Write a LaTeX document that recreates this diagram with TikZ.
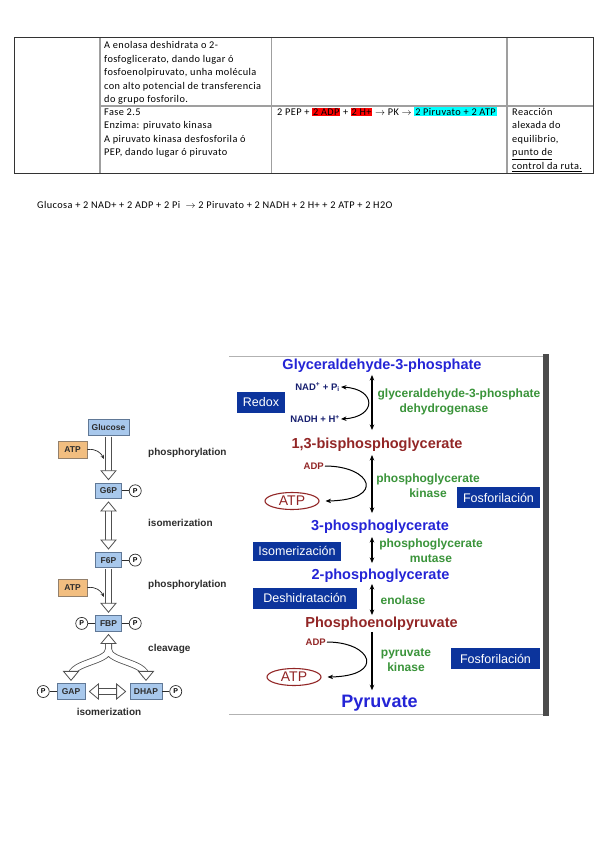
\documentclass[tikz,border=0pt]{standalone}
\usepackage{fontspec}
\setmainfont{Carlito}[LetterSpace=4]
\newfontfamily\arialf{Liberation Sans}
\usetikzlibrary{arrows.meta,positioning,calc,shapes.geometric}
\definecolor{tagblue}{RGB}{12,52,156}
\definecolor{molblue}{RGB}{36,36,214}
\definecolor{molred}{RGB}{146,38,38}
\definecolor{enzgreen}{RGB}{58,148,58}
\definecolor{cofnavy}{RGB}{24,32,112}
\definecolor{metfill}{RGB}{168,200,236}
\definecolor{metedge}{RGB}{96,120,150}
\definecolor{atpfill}{RGB}{242,190,128}
\definecolor{hgray}{RGB}{80,80,80}
\definecolor{labgray}{RGB}{45,45,45}
\definecolor{hlred}{RGB}{255,0,0}
\definecolor{hlcyan}{RGB}{0,255,255}
\newcommand{\tabfont}{\fontsize{10.3}{13.5}\selectfont}
\newcommand{\marca}[2]{{\setlength{\fboxsep}{0.8pt}\colorbox{#1}{#2}}}

\begin{document}
\begin{tikzpicture}[x=1pt,y=-1pt,>={Stealth[length=5.5pt,width=4.5pt]},
  cell/.style={anchor=north west,inner sep=0pt,align=left,font=\tabfont},
  tline/.style={draw=gray!75,line width=1.1pt},
  mol/.style={font=\arialf\bfseries\fontsize{14.5}{16}\selectfont,inner sep=1pt},
  enz/.style={font=\arialf\bfseries\fontsize{12}{15}\selectfont,text=enzgreen,align=center,inner sep=0pt},
  cof/.style={font=\arialf\bfseries\fontsize{9.5}{11}\selectfont,inner sep=1pt},
  tag/.style={fill=tagblue,text=white,font=\arialf\fontsize{12.5}{14}\selectfont,minimum height=21pt,inner sep=0pt},
  atpell/.style={ellipse,draw=molred,line width=1.1pt,minimum width=54pt,minimum height=17pt,inner sep=0pt,text=molred,font=\arialf\fontsize{14}{14}\selectfont},
  rxn/.style={line width=1.2pt},
  cofarr/.style={line width=1pt},
  met/.style={draw=metedge,fill=metfill,line width=0.8pt,minimum height=15.5pt,inner xsep=3pt,inner ysep=0pt,font=\arialf\bfseries\fontsize{8.5}{9}\selectfont,text=labgray},
  atpbox/.style={met,fill=atpfill,draw=gray!70!brown,minimum width=29pt,minimum height=17pt},
  pc/.style={circle,draw=labgray,fill=white,line width=0.7pt,inner sep=0pt,minimum size=12pt,font=\arialf\bfseries\fontsize{7}{7}\selectfont},
  lab/.style={font=\arialf\bfseries\fontsize{10}{11}\selectfont,text=labgray,inner sep=0pt},
  hshaft/.style={draw=hgray,line width=0.8pt,double=white,double distance=5.4pt},
  hhead/.pic={\filldraw[fill=white,draw=hgray,line width=0.8pt] (0,0) -- (-9,7.5) -- (-9,-7.5) -- cycle;}]
\useasboundingbox (0,0) rectangle (599,848);
\fill[white] (0,0) rectangle (599,848);

\draw[tline] (100,37) -- (100,173) (271.5,37) -- (271.5,173) (507,37) -- (507,173) (100,106) -- (593,106);
\draw[draw=gray!40!black,line width=0.9pt] (14,37) rectangle (593,173);
\node[cell] (enol) at (104,39) {\strut A enolasa deshidrata o 2-\\fosfoglicerato, dando lugar ó\\fosfoenolpiruvato, unha molécula\\con alto potencial de transferencia\\do grupo fosforilo.};
\node[cell] (fase) at (104,105.7) {\strut Fase 2.5\\Enzima: piruvato kinasa\\A piruvato kinasa desfosforila ó\\PEP, dando lugar ó piruvato};
\node[cell] (pkeq) at (277,105.7) {\strut 2 PEP + \marca{hlred}{2 ADP} + \marca{hlred}{2 H+} $\rightarrow$ PK $\rightarrow$ \marca{hlcyan}{2 Piruvato + 2 ATP}};
\node[cell] (nota) at (512,105.7) {\strut Reacción\\alexada do\\equilibrio,\\\underline{punto de}\\\underline{control da ruta.}};
\node[anchor=west,font=\tabfont,inner sep=0pt] (eqn) at (37,205) {Glucosa + 2 NAD+ + 2 ADP + 2 Pi \ $\rightarrow$ 2 Piruvato + 2 NADH + 2 H+ + 2 ATP + 2 H2O};

\node[met,minimum width=41pt] (glc) at (108.5,427.5) {Glucose};
\node[met,minimum width=26pt,below=47pt of glc] (g6p) {G6P};
\node[met,minimum width=26pt,below=53pt of g6p] (f6p) {F6P};
\node[met,minimum width=26pt,below=47pt of f6p] (fbp) {FBP};
\node[met,minimum width=28pt] (gap) at (71,691.5) {GAP};
\node[met,minimum width=32pt] (dhap) at (146,691.5) {DHAP};
\node[atpbox] (atpl1) at (72.5,449.5) {ATP};
\node[atpbox] (atpl2) at (72.5,587.5) {ATP};
\node[pc,right=7pt of g6p] (g6pP) {P};
\node[pc,right=7pt of f6p] (f6pP) {P};
\node[pc,right=7pt of fbp] (fbpR) {P};
\node[pc,left=7pt of fbp] (fbpL) {P};
\node[pc,left=7pt of gap] (gapP) {P};
\node[pc,right=7pt of dhap] (dhapP) {P};
\draw[labgray,line width=0.7pt] (g6p) -- (g6pP) (f6p) -- (f6pP) (fbp) -- (fbpR) (fbp) -- (fbpL) (gap) -- (gapP) (dhap) -- (dhapP);
\node[lab,anchor=west] (phos1) at (148,453) {phosphorylation};
\node[lab,anchor=west] (isom1) at (148,523) {isomerization};
\node[lab,anchor=west] (phos2) at (148,585) {phosphorylation};
\node[lab,anchor=west] (clv) at (148,649) {cleavage};
\node[lab] (isom2) at (109,712) {isomerization};
\coordinate (fork) at ($(fbp.south)+(0,18)$);
\coordinate (atpin1) at (104,459);
\coordinate (atpin2) at (104,597);
\draw[hshaft] ([yshift=-1pt]glc.south) -- ([yshift=7pt]g6p.north);
\draw[hshaft] ([yshift=-7pt]g6p.south) -- ([yshift=7pt]f6p.north);
\draw[hshaft] ([yshift=-1pt]f6p.south) -- ([yshift=7pt]fbp.north);
\draw[hshaft] ([yshift=-7pt]fbp.south) -- (fork) .. controls +(0,12) and +(0,-14) .. ([yshift=7pt]gap.north)
  (fork) .. controls +(0,12) and +(0,-14) .. ([yshift=7pt]dhap.north);
\draw[hshaft] ([xshift=8pt]gap.east) -- ([xshift=-8pt]dhap.west);
\pic[rotate=-90] at ([yshift=3pt]g6p.north) {hhead};
\pic[rotate=90] at ([yshift=-3pt]g6p.south) {hhead};
\pic[rotate=-90] at ([yshift=3pt]f6p.north) {hhead};
\pic[rotate=-90] at ([yshift=3pt]fbp.north) {hhead};
\pic[rotate=90] at ([yshift=-3pt]fbp.south) {hhead};
\pic[rotate=-90] at ([yshift=3pt]gap.north) {hhead};
\pic[rotate=-90] at ([yshift=3pt]dhap.north) {hhead};
\pic[rotate=180] at ([xshift=4pt]gap.east) {hhead};
\pic at ([xshift=-4pt]dhap.west) {hhead};
\draw[labgray,line width=0.7pt,-{Stealth[length=4pt,width=3.5pt]}] (atpl1.east) .. controls +(9,-1) and +(-3,-6) .. (atpin1);
\draw[labgray,line width=0.7pt,-{Stealth[length=4pt,width=3.5pt]}] (atpl2.east) .. controls +(9,-1) and +(-3,-6) .. (atpin2);

\draw[gray!60,line width=0.8pt] (229,356) -- (543,356) (229,714) -- (543,714);
\fill[black!70] (543,354) rectangle (549,716);
\coordinate (ax) at (372,366);
\node[mol,text=molblue] (gap3p) at (382,366) {Glyceraldehyde-3-phosphate};
\node[mol,text=molred] (bpg) at (377,445) {1,3-bisphosphoglycerate};
\node[mol,text=molblue] (pg3) at (380,527) {3-phosphoglycerate};
\node[mol,text=molblue] (pg2) at (380.5,576) {2-phosphoglycerate};
\node[mol,text=molred] (pep) at (381.5,624) {Phosphoenolpyruvate};
\node[mol,text=molblue,font=\arialf\bfseries\fontsize{18}{20}\selectfont] (pyr) at (379.5,703) {Pyruvate};
\draw[rxn,<->,shorten <=1pt,shorten >=7pt] (gap3p.south -| ax) -- (bpg.north -| ax);
\draw[rxn,<->,shorten <=2pt,shorten >=6pt] (bpg.south -| ax) -- (pg3.north -| ax);
\draw[rxn,<->,shorten <=2pt,shorten >=5pt] (pg3.south -| ax) -- (pg2.north -| ax);
\draw[rxn,<->,shorten <=0pt,shorten >=1pt] (pg2.south -| ax) -- (pep.north -| ax);
\draw[rxn,->,shorten <=0pt,shorten >=3.5pt] (pep.south -| ax) -- (pyr.north -| ax);
\node[cof,text=cofnavy,anchor=east] (nad) at (341,387) {NAD\textsuperscript{+} + P\textsubscript{i}};
\node[cof,text=cofnavy,anchor=east] (nadh) at (341,419) {NADH + H\textsuperscript{+}};
\draw[cofarr,<->] (nad.east) .. controls (377,389) and (377,417) .. (nadh.east);
\node[cof,text=molred,anchor=east] (adp1) at (325,466) {ADP};
\node[atpell] (atpr1) at (292,501) {ATP};
\draw[cofarr,->] (adp1.east) .. controls (372,466) and (386,500) .. ([xshift=6pt]atpr1.east);
\node[cof,text=molred,anchor=east] (adp2) at (327,642) {ADP};
\node[atpell] (atpr2) at (294,677) {ATP};
\draw[cofarr,->] (adp2.east) .. controls (372,642) and (386,676) .. ([xshift=6pt]atpr2.east);
\node[enz,align=left] (gapdh) at (459,402) {glyceraldehyde-3-phosphate\\\hspace*{22pt}dehydrogenase};
\node[enz] (pgk) at (428,485.5) {phosphoglycerate\\kinase};
\node[enz] (pgm) at (431,551) {phosphoglycerate\\mutase};
\node[enz] (eno) at (403,600) {enolase};
\node[enz] (pk) at (406,660) {pyruvate\\kinase};
\node[tag,minimum width=48pt] (redox) at (261,402) {Redox};
\node[tag,minimum width=83pt] (fosf1) at (498.5,497.5) {Fosforilación};
\node[tag,minimum width=88pt,minimum height=19pt] (isomz) at (297,551) {Isomerización};
\node[tag,minimum width=104pt] (deshid) at (305,598) {Deshidratación};
\node[tag,minimum width=89pt] (fosf2) at (495.5,658.5) {Fosforilación};
\end{tikzpicture}
\end{document}
